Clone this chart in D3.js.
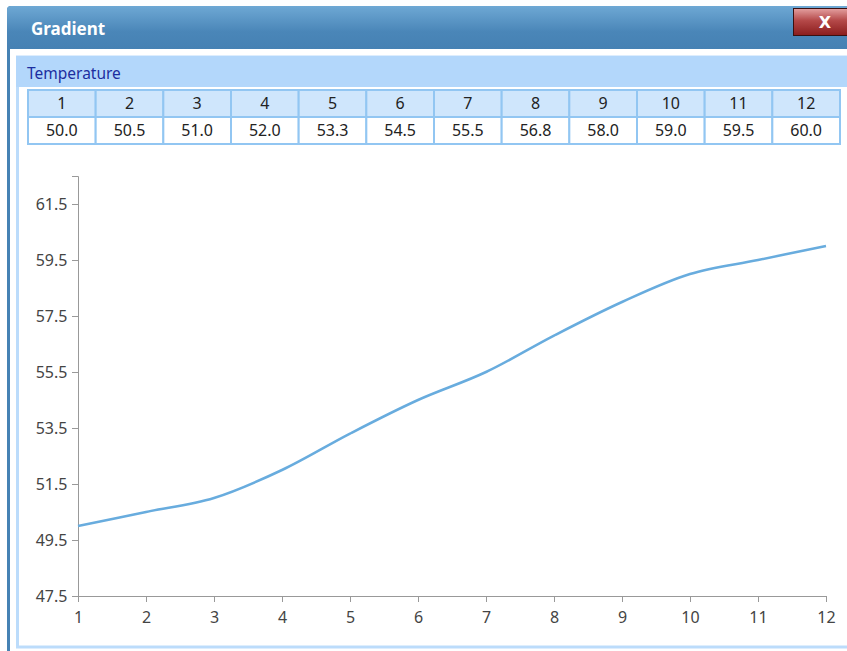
<!DOCTYPE html>
<html><head><meta charset="utf-8">
<script src="https://cdn.jsdelivr.net/npm/d3@7"></script>
<style>html,body{margin:0;padding:0;background:#fff;overflow:hidden}</style>
</head><body>
<svg id="c" width="847" height="651"></svg>
<script>
const title = "Gradient";
const seriesName = "Temperature";
const months = [1,2,3,4,5,6,7,8,9,10,11,12];
const temps = [50.0,50.5,51.0,52.0,53.3,54.5,55.5,56.8,58.0,59.0,59.5,60.0];
const yTicks = [47.5,49.5,51.5,53.5,55.5,57.5,59.5,61.5];
const yDomain = [47.5,62.5];

const svg = d3.select("#c");
const font = "'Noto Sans','Open Sans',sans-serif";
const defs = svg.append("defs");
const tg = defs.append("linearGradient").attr("id","tb").attr("x1",0).attr("y1",0).attr("x2",0).attr("y2",1);
tg.append("stop").attr("offset","0%").attr("stop-color","#6ea8d4");
tg.append("stop").attr("offset","60%").attr("stop-color","#4a86b8");
tg.append("stop").attr("offset","100%").attr("stop-color","#4681b3");
const rg = defs.append("linearGradient").attr("id","cb").attr("x1",0).attr("y1",0).attr("x2",0).attr("y2",1);
rg.append("stop").attr("offset","0%").attr("stop-color","#e4a0a0");
rg.append("stop").attr("offset","45%").attr("stop-color","#b44848");
rg.append("stop").attr("offset","100%").attr("stop-color","#8a1c1c");

// window frame
svg.append("rect").attr("x",7).attr("y",6).attr("width",845).attr("height",660).attr("rx",4).attr("fill","#4682b4");
svg.append("rect").attr("x",7).attr("y",6).attr("width",845).attr("height",43).attr("rx",4).attr("fill","url(#tb)");
svg.append("rect").attr("x",10).attr("y",49).attr("width",840).attr("height",610).attr("fill","#fff");
svg.append("text").attr("x",31).attr("y",35).attr("fill","#fff").attr("font-family",font).attr("font-weight","bold").attr("font-size",17).text(title);
// close button
svg.append("rect").attr("x",793.5).attr("y",8.5).attr("width",60).attr("height",27).attr("fill","url(#cb)").attr("stroke","#3a1010").attr("stroke-width",1);
svg.append("text").attr("x",825).attr("y",28).attr("text-anchor","middle").attr("fill","#fff").attr("font-family","'DejaVu Sans',sans-serif").attr("font-weight","bold").attr("font-size",16).text("X");

// panel
svg.append("rect").attr("x",17.5).attr("y",57).attr("width",840).attr("height",590).attr("fill","#fff").attr("stroke","#bcdcfb").attr("stroke-width",3);
svg.append("rect").attr("x",16).attr("y",56).attr("width",840).attr("height",31).attr("fill","#b3d7fb");
svg.append("text").attr("x",27).attr("y",79).attr("fill","#1c2ea0").attr("font-family",font).attr("font-size",15.5).text(seriesName);

// table
const tx = d3.scaleBand().domain(months).range([28,840]);
const tbl = svg.append("g");
months.forEach((m,i)=>{
  const x = tx(m), w = tx.bandwidth();
  tbl.append("rect").attr("x",x).attr("y",90).attr("width",w).attr("height",27).attr("fill","#cfe6fc").attr("stroke","#92c6f2").attr("stroke-width",2);
  tbl.append("rect").attr("x",x).attr("y",117).attr("width",w).attr("height",27).attr("fill","#fff").attr("stroke","#92c6f2").attr("stroke-width",2);
  tbl.append("text").attr("x",x+w/2).attr("y",109).attr("text-anchor","middle").attr("font-family",font).attr("font-size",16).attr("fill","#222").text(m);
  tbl.append("text").attr("x",x+w/2).attr("y",136).attr("text-anchor","middle").attr("font-family",font).attr("font-size",16).attr("fill","#222").text(temps[i].toFixed(1));
});

// chart
const x = d3.scaleLinear().domain([1,12]).range([78,826]);
const y = d3.scaleLinear().domain(yDomain).range([596,176]);
const gx = svg.append("g").attr("transform","translate(0,596)")
  .call(d3.axisBottom(x).tickValues(months).tickFormat(d3.format("d")).tickSizeOuter(0).tickSize(6));
const gy = svg.append("g").attr("transform","translate(78,0)")
  .call(d3.axisLeft(y).tickValues(yTicks).tickFormat(d3.format(".1f")).tickSizeOuter(0).tickSize(6));
[gx,gy].forEach(g=>{
  g.selectAll("path,line").attr("stroke","#999");
  g.selectAll("text").attr("font-family",font).attr("font-size",16).attr("fill","#444");
});
gx.selectAll("text").attr("dy","1.15em");
gy.selectAll("text").attr("dx","-0.1em");

const line = d3.line().x((d,i)=>x(months[i])).y(d=>y(d)).curve(d3.curveCatmullRom.alpha(0.5));
svg.append("path").datum(temps).attr("d",line).attr("fill","none").attr("stroke","#68acde").attr("stroke-width",2.5);
</script>
</body></html>
